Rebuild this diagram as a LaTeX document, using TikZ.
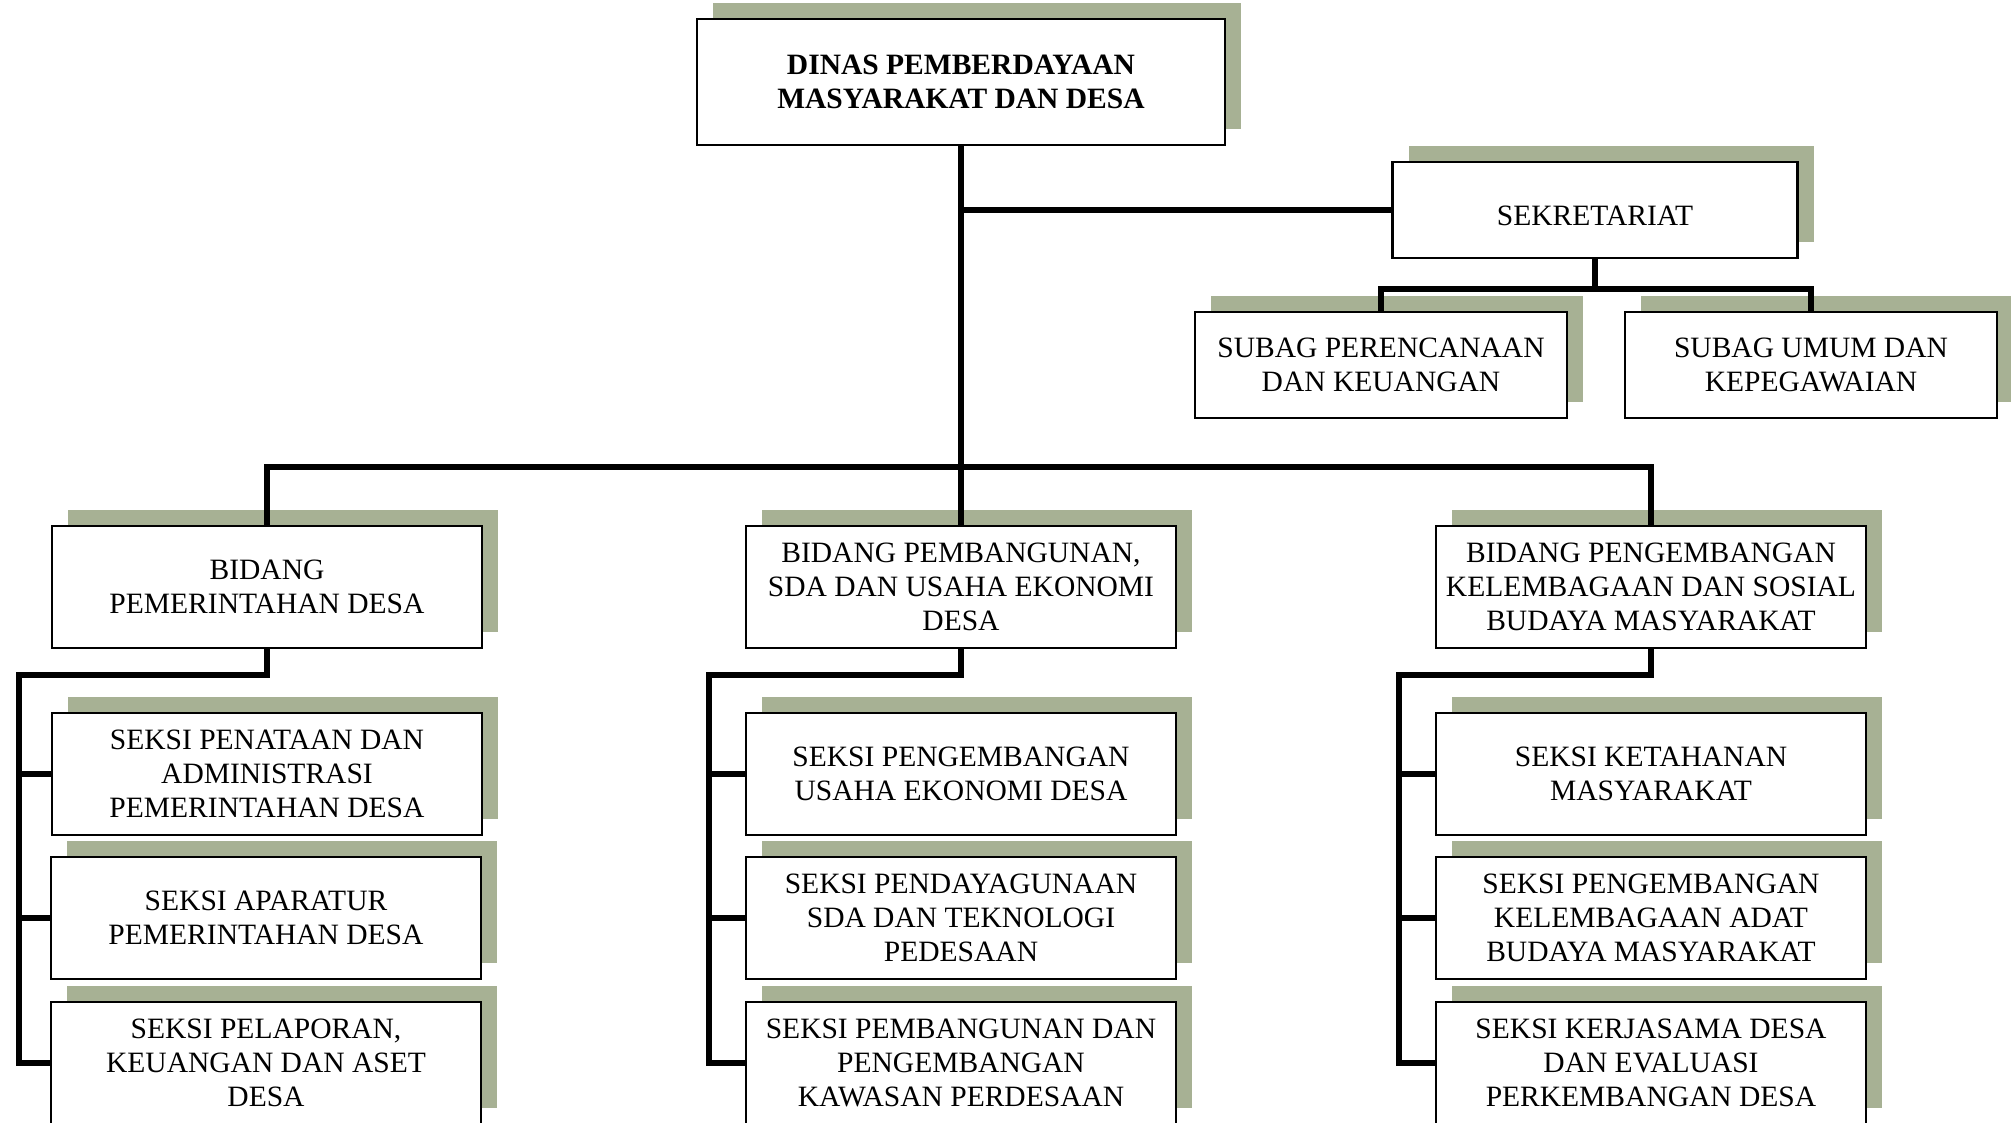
\documentclass[tikz,border=0pt]{standalone}
\usepackage{fontspec}
\setmainfont{Liberation Serif}
\usetikzlibrary{shadows}
\definecolor{shadegreen}{RGB}{167,177,148}

\begin{document}
\begin{tikzpicture}[
  unit/.style={draw, line width=0.8pt, fill=white, align=center, inner sep=0pt,
    minimum width=4.30cm, minimum height=1.22cm,
    font=\fontsize{8.4}{9.7}\selectfont,
    execute at begin node={\rule{0pt}{9pt}},
    general shadow={fill=shadegreen, shadow xshift=0.16cm, shadow yshift=0.16cm}},
  conn/.style={line width=1.5pt}]
\path[use as bounding box, clip] (0,0) rectangle (20.11,11.22);
% head and secretariat
\node[unit, minimum width=5.28cm, minimum height=1.26cm, font=\fontsize{8.4}{9.7}\selectfont\bfseries] (dinas) at (9.61,10.40) {DINAS PEMBERDAYAAN\\MASYARAKAT DAN DESA};
\node[unit, minimum width=4.05cm, minimum height=0.96cm] (sekre) at (15.95,9.12) {SEKRETARIAT};
\node[unit, minimum width=3.72cm, minimum height=1.06cm] (subA) at (13.81,7.57) {SUBAG PERENCANAAN\\DAN KEUANGAN};
\node[unit, minimum width=3.72cm, minimum height=1.06cm] (subB) at (18.11,7.57) {SUBAG UMUM DAN\\KEPEGAWAIAN};
% bidang
\node[unit] (bidA) at (2.67,5.35) {BIDANG\\PEMERINTAHAN DESA};
\node[unit] (bidB) at (9.61,5.35) {BIDANG PEMBANGUNAN,\\SDA DAN USAHA EKONOMI\\DESA};
\node[unit] (bidC) at (16.51,5.35) {BIDANG PENGEMBANGAN\\KELEMBAGAAN DAN SOSIAL\\BUDAYA MASYARAKAT};
% seksi
\node[unit] (sekA1) at (2.67,3.48) {SEKSI PENATAAN DAN\\ADMINISTRASI\\PEMERINTAHAN DESA};
\node[unit] (sekA2) at (2.66,2.04) {SEKSI APARATUR\\PEMERINTAHAN DESA};
\node[unit] (sekA3) at (2.66,0.59) {SEKSI PELAPORAN,\\KEUANGAN DAN ASET\\DESA};
\node[unit] (sekB1) at (9.61,3.48) {SEKSI PENGEMBANGAN\\USAHA EKONOMI DESA};
\node[unit] (sekB2) at (9.61,2.04) {SEKSI PENDAYAGUNAAN\\SDA DAN TEKNOLOGI\\PEDESAAN};
\node[unit] (sekB3) at (9.61,0.59) {SEKSI PEMBANGUNAN DAN\\PENGEMBANGAN\\KAWASAN PERDESAAN};
\node[unit] (sekC1) at (16.51,3.48) {SEKSI KETAHANAN\\MASYARAKAT};
\node[unit] (sekC2) at (16.51,2.04) {SEKSI PENGEMBANGAN\\KELEMBAGAAN ADAT\\BUDAYA MASYARAKAT};
\node[unit] (sekC3) at (16.51,0.59) {SEKSI KERJASAMA DESA\\DAN EVALUASI\\PERKEMBANGAN DESA};
% connectors
\coordinate (bus) at (9.61,6.55);
\coordinate (sekbus) at (15.95,8.33);
\draw[conn] (dinas.south) -- (bidB.north);
\draw[conn] (dinas.south |- sekre.west) -- (sekre.west);
\draw[conn] (bidA.north) |- (bus) -| (bidC.north);
\draw[conn] (sekre.south) -- (sekbus);
\draw[conn] (subA.north) |- (sekbus) -| (subB.north);
\foreach \col/\rx in {A/0.19, B/7.09, C/13.99} {
  \coordinate (rail\col) at (\rx,4.47);
  \draw[conn] (bid\col.south) |- (rail\col) |- (sek\col3.west);
  \draw[conn] (rail\col |- sek\col1.west) -- (sek\col1.west);
  \draw[conn] (rail\col |- sek\col2.west) -- (sek\col2.west);
}
\end{tikzpicture}
\end{document}
